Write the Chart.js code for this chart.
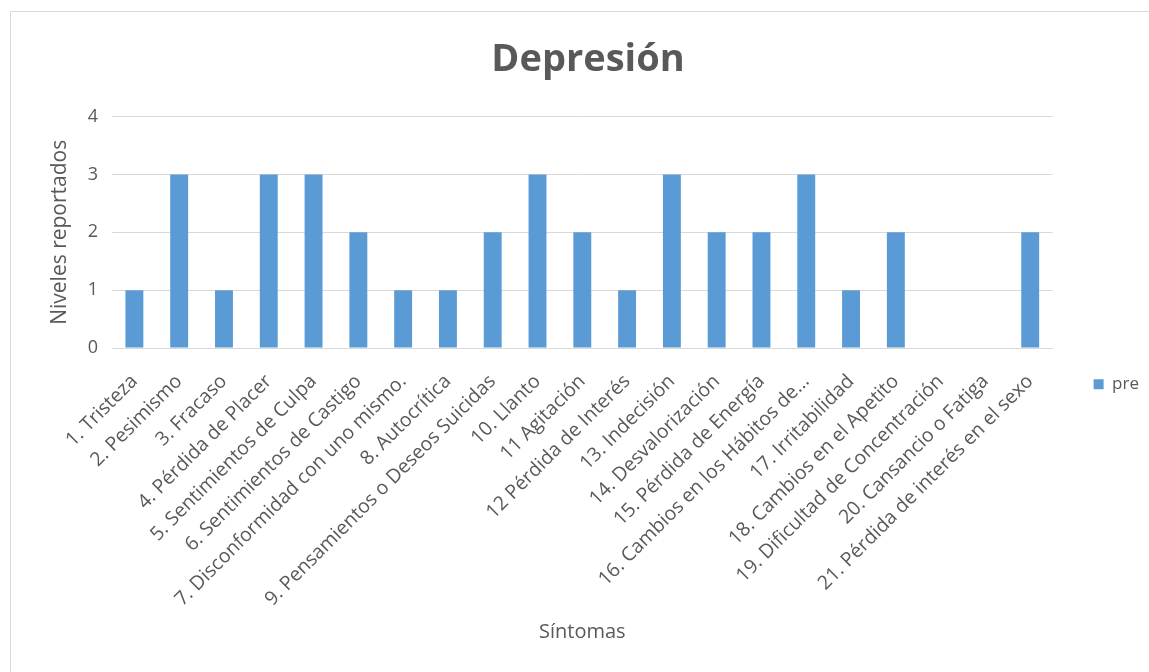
<!DOCTYPE html>
<html>
<head>
<meta charset="utf-8">
<script src="https://cdn.jsdelivr.net/npm/chart.js@4/dist/chart.umd.min.js"></script>
<style>
  html, body { margin: 0; padding: 0; background: #ffffff; }
  #wrap { position: relative; width: 1149px; height: 672px; overflow: hidden; }
  #frame { position: absolute; left: 10px; top: 11px; width: 1200px; height: 700px; border: 1px solid #d9d9d9; box-sizing: border-box; }
  #c { position: absolute; left: 0; top: 0; }
</style>
</head>
<body>
<div id="wrap">
  <div id="frame"></div>
  <canvas id="c" width="1149" height="672"></canvas>
</div>
<script>
const categories = [
  "1. Tristeza",
  "2. Pesimismo",
  "3. Fracaso",
  "4. Pérdida de Placer",
  "5. Sentimientos de Culpa",
  "6. Sentimientos de Castigo",
  "7. Disconformidad con uno mismo.",
  "8. Autocrítica",
  "9. Pensamientos o Deseos Suicidas",
  "10. Llanto",
  "11 Agitación",
  "12 Pérdida de Interés",
  "13. Indecisión",
  "14. Desvalorización",
  "15. Pérdida de Energía",
  "16. Cambios en los Hábitos de...",
  "17. Irritabilidad",
  "18. Cambios en el Apetito",
  "19. Dificultad de Concentración",
  "20. Cansancio o Fatiga",
  "21. Pérdida de interés en el sexo"
];
const preValues = [1, 3, 1, 3, 3, 2, 1, 1, 2, 3, 2, 1, 3, 2, 2, 3, 1, 2, 0, 0, 2];
const yTicks = [0, 1, 2, 3, 4];

const textColor = "#595959";
const gridColor = "#d9d9d9";
const barColor = "#5b9bd5";
const fontFamily = "'Open Sans', Lato, sans-serif";

new Chart(document.getElementById("c"), {
  type: "bar",
  data: {
    labels: categories,
    datasets: [{
      label: "pre",
      data: preValues,
      backgroundColor: barColor,
      borderWidth: 0,
      categoryPercentage: 1.0,
      barPercentage: 0.4
    }]
  },
  options: {
    responsive: false,
    animation: false,
    layout: { padding: { left: 27, right: 0, top: 0, bottom: 28 } },
    plugins: {
      title: {
        display: true,
        text: "Depresión",
        color: textColor,
        font: { family: fontFamily, size: 38, weight: "bold" },
        padding: { top: 37, bottom: 34 }
      },
      legend: {
        display: true,
        position: "right",
        title: {
          display: true,
          text: " ",
          font: { family: fontFamily, size: 12 },
          padding: 55
        },
        labels: {
          color: textColor,
          font: { family: fontFamily, size: 17 },
          boxWidth: 10,
          boxHeight: 10,
          padding: 41
        }
      },
      tooltip: { enabled: false }
    },
    scales: {
      x: {
        grid: { display: false, drawTicks: false },
        border: { display: true, color: gridColor, width: 1 },
        ticks: {
          color: textColor,
          font: { family: fontFamily, size: 19.5 },
          maxRotation: 45,
          minRotation: 45,
          autoSkip: false,
          padding: 22
        },
        title: {
          display: true,
          text: "Síntomas",
          color: textColor,
          font: { family: fontFamily, size: 20 },
          padding: { top: 0, bottom: 0 }
        },
        afterFit: (axis) => { axis.height = 296; }
      },
      y: {
        min: 0,
        max: 4,
        afterBuildTicks: (axis) => { axis.ticks = yTicks.map(v => ({ value: v })); },
        grid: { color: gridColor, drawTicks: false },
        border: { display: false },
        ticks: {
          color: textColor,
          font: { family: fontFamily, size: 18 },
          padding: 14
        },
        title: {
          display: true,
          text: "Niveles reportados",
          color: textColor,
          font: { family: fontFamily, size: 21 },
          padding: { top: 20, bottom: 0 }
        },
        afterFit: (axis) => { axis.width = 85; }
      }
    }
  }
});
</script>
</body>
</html>
